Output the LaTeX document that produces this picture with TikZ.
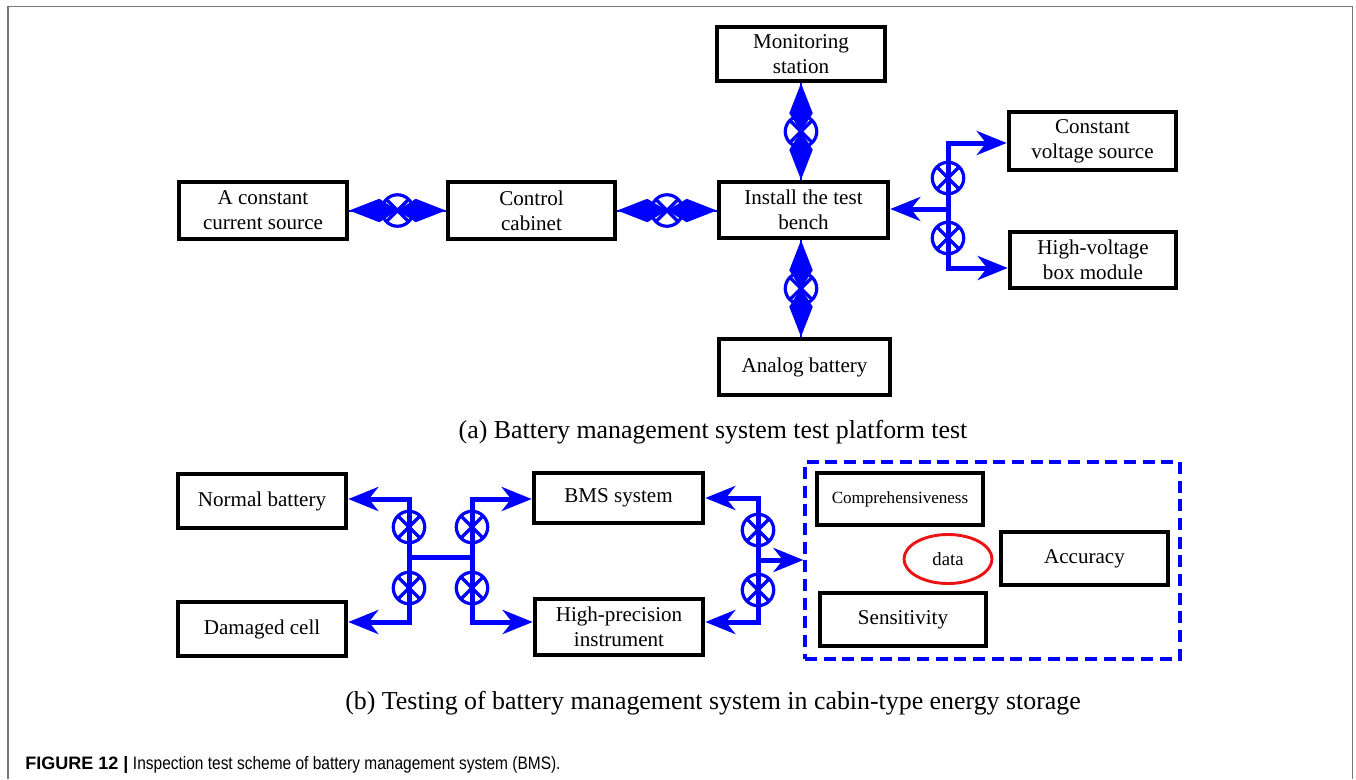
\documentclass[tikz,border=0pt]{standalone}
\usepackage{fontspec}
\setmainfont{Liberation Serif}
\newfontfamily\capsans{Liberation Sans}
\newfontfamily\capsanscond[FakeStretch=0.86]{Liberation Sans}
\usetikzlibrary{arrows.meta,calc,shapes.geometric}

\definecolor{flowblue}{RGB}{0,0,255}
\definecolor{framegray}{RGB}{120,120,120}
\definecolor{datared}{RGB}{235,20,20}

\tikzset{
  box/.style={draw=black, line width=3.4pt, inner sep=0pt, align=center,
    font=\fontsize{15.8}{18.8}\selectfont},
  wh/.style 2 args={minimum width=#1*0.75pt, minimum height=#2*0.75pt},
  head/.style={arrows={-Stealth[length=22.5pt, width=18pt, inset=7pt]}},
  heads/.style={arrows={Stealth[length=22.5pt, width=18pt, inset=7pt]-Stealth[length=22.5pt, width=18pt, inset=7pt]}},
  flow/.style={draw=flowblue, line width=3.75pt, line join=miter},
  valve/.pic={
    \draw[flowblue, line width=2.4pt] (0,0) circle[radius=11.8pt];
    \draw[flowblue, line width=2.6pt] (-8pt,-8pt) -- (8pt,8pt)
                                     (-8pt,8pt) -- (8pt,-8pt);
  },
  caption/.style={inner sep=0pt, font=\fontsize{19.4}{23}\selectfont},
}

% two-way link: a long kite-shaped head at each end, meeting in a valve
\newcommand\kitelink[2]{%
  \coordinate (kM) at ($(#1)!0.5!(#2)$);
  \draw[flowblue, line width=1.5pt] (#1) -- (#2);
  \fill[flowblue] (#1) -- ($(#1)!22.5pt!(kM)!8.8pt!90:(kM)$) -- (kM)
                       -- ($(#1)!22.5pt!(kM)!8.8pt!-90:(kM)$) -- cycle;
  \fill[flowblue] (#2) -- ($(#2)!22.5pt!(kM)!8.8pt!90:(kM)$) -- (kM)
                       -- ($(#2)!22.5pt!(kM)!8.8pt!-90:(kM)$) -- cycle;
  \pic at (kM) {valve};
}

\begin{document}
\begin{tikzpicture}[x=0.75pt, y=-0.75pt]
  \useasboundingbox (0,0) rectangle (1356,779);

  % open frame around the figure
  \draw[framegray, line width=1.1pt] (8,779) -- (8,6.5) -- (1352.5,6.5) -- (1352.5,779);

  % ---------- (a) test platform ----------
  \node[box, wh={168}{54}] (mon)  at (801,54)    {Monitoring\\station};
  \node[box, wh={169}{56}] (inst) at (803.5,210) {Install the test\\bench};
  \node[box, wh={171}{56}] (ana)  at (804.5,367) {Analog battery};
  \node[box, wh={168}{57}] (acs)  at (263,210.5) {A constant\\current source};
  \node[box, wh={167}{57}] (ctrl) at (531.5,210.5) {Control\\cabinet};
  \node[box, wh={167}{58}] (cvs)  at (1092.5,141) {Constant\\voltage source};
  \node[box, wh={166}{56}] (hv)   at (1093,260)  {High-voltage\\box module};

  % two-way links with valves
  \kitelink{acs.east}{ctrl.west}
  \kitelink{ctrl.east}{inst.west |- ctrl.east}
  \kitelink{mon.south}{mon.south |- inst.north}
  \kitelink{inst.south -| mon.south}{mon.south |- ana.north}

  % branch to the voltage sources
  \coordinate (rt) at (948,143);
  \coordinate (rm) at (948,209);
  \coordinate (rb) at (948,268);
  \draw[flow, heads] (cvs.west |- rt) -- (rt) -- (rb) -- (hv.west |- rb);
  \draw[flow, head] (rm) -- (inst.east |- rm);
  \pic at (948,178) {valve};
  \pic at (948,238) {valve};

  \node[caption] (capa) at (713,432) {(a) Battery management system test platform test};

  % ---------- (b) cabin-type energy storage ----------
  \node[box, wh={168}{54}] (nb)   at (262,501)   {Normal battery};
  \node[box, wh={168}{54}] (dc)   at (262,629)   {Damaged cell};
  \node[box, wh={169}{50}] (bms)  at (618.5,498) {BMS system};
  \node[box, wh={168}{56}] (hp)   at (619,627)   {High-precision\\instrument};

  % H-shaped distribution between the batteries and the test equipment
  \coordinate (lt) at (409,499);
  \coordinate (lb) at (409,622);
  \coordinate (rtb) at (472,499);
  \coordinate (rbb) at (472,622);
  \draw[flow, heads] (nb.east |- lt) -- (lt) -- (lb) -- (dc.east |- lb);
  \draw[flow, heads] (bms.west |- rtb) -- (rtb) -- (rbb) -- (hp.west |- rbb);
  \draw[flow] (409,557) -- (472,557);
  \pic at (409,527) {valve};
  \pic at (409,588) {valve};
  \pic at (472,527) {valve};
  \pic at (472,588) {valve};

  % evaluation group
  \node[draw=flowblue, line width=2.3pt, dash pattern=on 9pt off 5pt,
        minimum width=375*0.75pt, minimum height=197*0.75pt, inner sep=0pt]
        (grp) at (992.5,560.5) {};
  \node[box, wh={166}{52}, font=\fontsize{12.8}{15}\selectfont] (comp) at (900,499) {Comprehensiveness};
  \node[box, wh={167}{53}] (acc)  at (1084.5,558.5) {Accuracy};
  \node[box, wh={166}{53}] (sens) at (903,619.5)    {Sensitivity};
  \node[draw=datared, line width=2.2pt, ellipse, minimum width=88*0.75pt,
        minimum height=49*0.75pt, inner sep=0pt, font=\fontsize{14}{16}\selectfont]
        (data) at (948,559) {data};

  % collector from the test equipment to the evaluation group
  \coordinate (ct) at (758,498);
  \coordinate (cm) at (758,560);
  \coordinate (cb) at (758,622);
  \draw[flow, heads] (bms.east |- ct) -- (ct) -- (cb) -- (hp.east |- cb);
  \draw[flow, head] (cm) -- (grp.west |- cm);
  \pic at (758,530) {valve};
  \pic at (758,590) {valve};

  \node[caption] (capb) at (713,703) {(b) Testing of battery management system in cabin-type energy storage};

  % figure caption
  \node[anchor=base west, inner sep=0pt, font=\fontsize{13.5}{16}\selectfont] (fig) at (25,769)
    {{\capsans\bfseries FIGURE 12 |}\hspace{3.5pt}{\capsanscond Inspection test scheme of battery management system (BMS).}};
\end{tikzpicture}
\end{document}
